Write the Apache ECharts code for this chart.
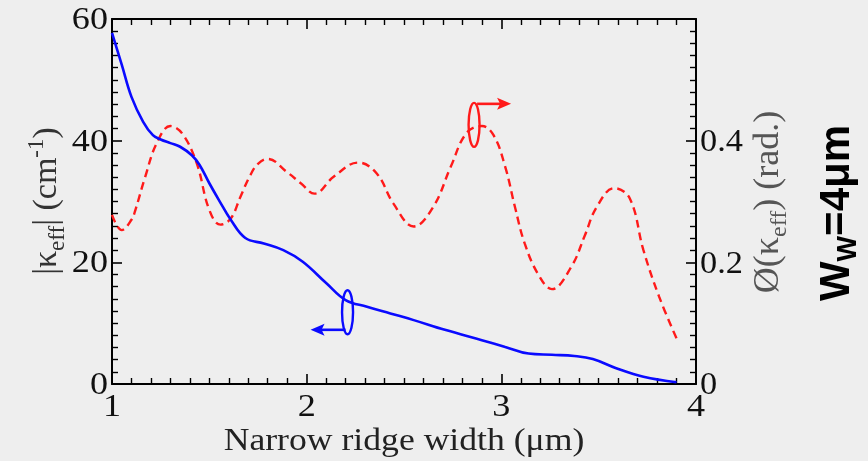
<!DOCTYPE html>
<html><head><meta charset="utf-8">
<script src="https://cdn.jsdelivr.net/npm/echarts@6/dist/echarts.min.js"></script>
<style>html,body{margin:0;padding:0;background:#eeeeee}#c{width:868px;height:461px}</style>
</head><body><div id="c"></div><script>
// ---- data ----
const kappaX = [1.0,1.05,1.10,1.16,1.21,1.25,1.30,1.35,1.41,1.45,1.50,1.55,1.61,1.685,1.78,1.88,1.98,2.10,2.20,2.31,2.43,2.55,2.71,2.90,3.02,3.14,3.26,3.375,3.47,3.59,3.73,3.90];
const kappaAbs = [57.7,52.5,47.2,43.1,40.9,40.2,39.6,39.0,37.6,36.0,33.0,30.2,27.0,24.0,23.1,22.0,20.1,16.6,13.8,12.7,11.6,10.5,8.9,7.2,6.1,5.0,4.8,4.6,4.1,2.6,1.2,0.3];
const phaseX = [1.0,1.05,1.10,1.12,1.17,1.23,1.30,1.36,1.435,1.50,1.557,1.61,1.66,1.71,1.75,1.80,1.90,1.97,2.04,2.14,2.265,2.36,2.445,2.55,2.65,2.74,2.82,2.90,2.96,3.02,3.07,3.12,3.19,3.26,3.36,3.43,3.49,3.58,3.66,3.73,3.81,3.90];
const phaseRad = [0.278,0.253,0.27,0.286,0.34,0.396,0.424,0.412,0.363,0.286,0.262,0.272,0.308,0.343,0.362,0.370,0.348,0.33,0.313,0.341,0.364,0.346,0.297,0.259,0.291,0.357,0.412,0.424,0.409,0.357,0.291,0.231,0.18,0.156,0.193,0.245,0.291,0.322,0.305,0.22,0.144,0.075];
const xTicks = [1,2,3,4];
const leftTicks = [0,20,40,60];
const rightTicks = [0,0.2,0.4];
// annotation anchors (data space)
const blueMark = {center:[2.21, 11.8], arrowToX: 2.02};
const redMark = {center:[2.86, 0.426], arrowToX: 3.05};

const SERIF = '"Liberation Serif","DejaVu Serif",serif';
const BLUE = '#0a0aff', RED = '#ff1a1a';
const chart = echarts.init(document.getElementById('c'), null, {renderer:'canvas'});

function axisCommon(){
  return {
    axisLine:{show:true,onZero:false,lineStyle:{color:'#000',width:2}},
    axisTick:{show:true,inside:true,length:10,lineStyle:{color:'#000',width:1.6}},
    minorTick:{show:true,splitNumber:10,length:6,lineStyle:{color:'#000',width:1.4}},
    splitLine:{show:false}, minorSplitLine:{show:false},
    axisLabel:{show:false}
  };
}

const option = {
  backgroundColor:'#eeeeee',
  animation:false,
  grid:{left:112,right:172,top:19,bottom:77},
  xAxis:[
    Object.assign(axisCommon(),{type:'value',min:xTicks[0],max:xTicks[xTicks.length-1],interval:1,position:'bottom'}),
    Object.assign(axisCommon(),{type:'value',min:xTicks[0],max:xTicks[xTicks.length-1],interval:1,position:'top'})
  ],
  yAxis:[
    Object.assign(axisCommon(),{type:'value',min:0,max:60,interval:20,position:'left'}),
    Object.assign(axisCommon(),{type:'value',min:0,max:0.6,interval:0.2,position:'right'})
  ],
  series:[
    {type:'line',xAxisIndex:0,yAxisIndex:1,data:phaseX.map((x,i)=>[x,phaseRad[i]]),smooth:0.4,showSymbol:false,
      lineStyle:{color:RED,width:2.4,type:[8,5]},z:2},
    {type:'line',xAxisIndex:0,yAxisIndex:0,data:kappaX.map((x,i)=>[x,kappaAbs[i]]),smooth:0.4,showSymbol:false,
      lineStyle:{color:BLUE,width:2.6},z:3}
  ]
};
chart.setOption(option);

// ---- tick labels (placed through the axes' scales), titles & annotations ----
const g = [];
const TICKFONT = '32px '+SERIF, TICKSCALE = 1.13;
leftTicks.forEach(v=>{
  const y = chart.convertToPixel({yAxisIndex:0}, v);
  g.push({type:'text',x:108,y:y+1.5,scaleX:TICKSCALE,z:10,style:{text:String(v),font:TICKFONT,fill:'#111',align:'right',verticalAlign:'middle'}});
});
rightTicks.forEach(v=>{
  const y = chart.convertToPixel({yAxisIndex:1}, v);
  g.push({type:'text',x:700,y:y+2,scaleX:TICKSCALE*0.95,z:10,style:{text:v===0?'0':v.toFixed(1),font:TICKFONT,fill:'#111',align:'left',verticalAlign:'middle'}});
});
xTicks.forEach(v=>{
  const x = chart.convertToPixel({xAxisIndex:0}, v);
  g.push({type:'text',x:x,y:407.5,scaleX:TICKSCALE,z:10,style:{text:String(v),font:TICKFONT,fill:'#111',align:'center',verticalAlign:'middle'}});
});

function mkRich(size, sub, fill){
  return {
    n:{fontFamily:SERIF,fontSize:size,lineHeight:size+10,fill:fill},
    s:{fontFamily:SERIF,fontSize:sub,lineHeight:sub,verticalAlign:'bottom',fill:fill},
    p:{fontFamily:SERIF,fontSize:sub,lineHeight:sub,verticalAlign:'top',fill:fill}
  };
}
g.push({type:'text',x:47,y:201,rotation:Math.PI/2,z:10,
  style:{text:'{n||κ}{s|eff}{n|| (cm}{p|-1}{n|)}',rich:mkRich(34,23,'#333'),align:'center',verticalAlign:'middle'}});
g.push({type:'text',x:769,y:202,rotation:Math.PI/2,z:10,
  style:{text:'{n|Ø(κ}{s|eff}{n|) (rad.)}',rich:mkRich(36,24,'#555'),align:'center',verticalAlign:'middle'}});
g.push({type:'text',x:837,y:213,rotation:Math.PI/2,z:10,
  style:{text:'{b|W}{w|W}{b|=4μm}',align:'center',verticalAlign:'middle',
    rich:{b:{fontFamily:'"Liberation Sans",Arial,sans-serif',fontWeight:'bold',fontSize:42,lineHeight:50,fill:'#000'},
          w:{fontFamily:'"Liberation Sans",Arial,sans-serif',fontWeight:'bold',fontSize:27,lineHeight:26,verticalAlign:'bottom',fill:'#000'}}}});
g.push({type:'text',x:404,y:442,scaleX:1.15,z:10,
  style:{text:'Narrow ridge width (μm)',font:'31px '+SERIF,fill:'#222',align:'center',verticalAlign:'middle'}});

function marker(mk, yIdx, color, dir){
  const c = chart.convertToPixel({xAxisIndex:0,yAxisIndex:yIdx}, mk.center);
  const tx = chart.convertToPixel({xAxisIndex:0}, mk.arrowToX);
  const rx=5.5, ry=22;
  g.push({type:'ellipse',z:5,shape:{cx:c[0],cy:c[1],rx:rx,ry:ry},style:{fill:'none',stroke:color,lineWidth:2.4}});
  const ay = dir<0 ? c[1]+ry*0.8 : c[1]-ry+1;
  const ax = dir<0 ? c[0]-2 : c[0]+3;
  const tip = tx;
  const back = tip - dir*12;
  g.push({type:'polyline',z:5,shape:{points:[[ax,ay],[back+dir*2,ay]]},style:{stroke:color,lineWidth:2.6,fill:'none'}});
  g.push({type:'polygon',z:5,shape:{points:[[tip,ay],[back-dir*2,ay-6],[back+dir*1,ay],[back-dir*2,ay+6]]},style:{fill:color}});
}
marker(blueMark,0,BLUE,-1);
marker(redMark,1,RED,1);
chart.setOption({graphic:g});
</script></body></html>
